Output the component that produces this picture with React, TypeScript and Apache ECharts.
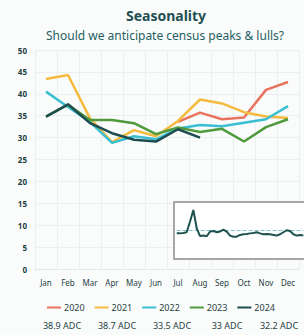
import React, { useEffect, useRef } from "react";
import * as echarts from "echarts";

const months = ["Jan", "Feb", "Mar", "Apr", "May", "Jun", "Jul", "Aug", "Sep", "Oct", "Nov", "Dec"];
const years = ["2020", "2021", "2022", "2023", "2024"];
const y2020 = [null, null, null, null, null, null, 33.6, 35.7, 34.2, 34.6, 40.9, 42.7];
const y2021 = [43.4, 44.3, 34.4, 29.0, 31.7, 30.3, 33.8, 38.7, 37.8, 35.8, 34.8, 34.5];
const y2022 = [40.5, 37.0, 33.6, 28.8, 30.3, 29.6, 32.1, 32.9, 32.6, 33.4, 34.2, 37.2];
const y2023 = [34.8, 37.5, 34.0, 34.0, 33.3, 30.8, 32.3, 31.3, 32.0, 29.1, 32.4, 34.2];
const y2024 = [34.8, 37.6, 33.3, 31.0, 29.5, 29.1, 31.9, 30.0, null, null, null, null];
const yearColors = ["#e8735e", "#f4bb3e", "#3bbfd0", "#4f9a3c", "#1d4d4e"];
const adcLabels = ["38.9 ADC", "38.7 ADC", "33.5 ADC", "33 ADC", "32.2 ADC"];
const yTicks = [0, 50, 5];

const sparkValues = [
  31.7, 31.7, 31.9, 32.2, 37.0, 42.2, 34.0, 30.5, 30.7, 30.4,
  32.5, 32.8, 32.2, 32.5, 33.4, 32.5, 30.7, 30.2, 30.2, 31.0,
  31.3, 31.4, 31.7, 31.9, 32.2, 31.7, 31.3, 31.4, 31.3, 31.0,
  30.7, 31.3, 32.2, 33.1, 32.8, 31.3, 30.7, 31.0, 30.8,
];
const sparkMean = 33.2;

const FONT = "Noto Sans";
const TEXT = "#1f4244";

export default function App() {
  const ref = useRef<HTMLDivElement>(null);
  useEffect(() => {
    if (!ref.current) return;
    const chart = echarts.init(ref.current, null, { renderer: "svg" });
    const yearData = [y2020, y2021, y2022, y2023, y2024];
    const adcX = [62, 117, 172, 227, 279];
    chart.setOption({
      animation: false,
      backgroundColor: "#fafbfb",
      textStyle: { fontFamily: FONT },
      title: [
        {
          text: "Seasonality",
          left: 161,
          textAlign: "center",
          top: 3,
          textStyle: { fontSize: 14, fontWeight: "bold", color: "#1f4f52", fontFamily: FONT },
        },
        {
          text: "Should we anticipate census peaks & lulls?",
          left: 160,
          textAlign: "center",
          top: 24,
          textStyle: { fontSize: 12, fontWeight: "normal", color: "#1f5f62", fontFamily: FONT },
        },
      ],
      legend: {
        data: years,
        left: 42,
        top: 298,
        icon: "rect",
        itemWidth: 14,
        itemHeight: 2,
        itemGap: 10,
        textStyle: { fontSize: 9, color: TEXT, padding: [0, 0, 0, -2] },
      },
      grid: [
        { left: 35, right: 5, top: 50, bottom: 66 },
        { left: 176.7, top: 206, width: 126.7, height: 35.6 },
      ],
      xAxis: [
        {
          type: "category",
          data: months,
          gridIndex: 0,
          axisTick: { show: false },
          axisLine: { show: true, lineStyle: { color: "#e4e8e9" } },
          axisLabel: { fontSize: 8, color: TEXT, margin: 9 },
          splitLine: { show: true, lineStyle: { color: "#eceff0" } },
        },
        {
          type: "category",
          gridIndex: 1,
          show: false,
          boundaryGap: false,
          data: sparkValues.map((_, i) => i),
        },
      ],
      yAxis: [
        {
          type: "value",
          gridIndex: 0,
          min: yTicks[0],
          max: yTicks[1],
          interval: yTicks[2],
          axisLabel: { fontSize: 8, color: TEXT, margin: 8, fontWeight: "bold" },
          splitLine: { show: true, lineStyle: { color: "#eceff0" } },
          axisLine: { show: false },
          axisTick: { show: false },
        },
        { type: "value", gridIndex: 1, show: false, min: 28, max: 44 },
      ],
      graphic: [
        {
          type: "rect",
          z: 1,
          shape: { x: 174, y: 202, width: 140, height: 57 },
          style: { fill: "#ffffff", stroke: "#8c8c8c", lineWidth: 1.5 },
        },
        ...adcLabels.map((t, i) => ({
          type: "text",
          z: 5,
          x: adcX[i],
          y: 325,
          style: {
            text: t,
            fill: TEXT,
            fontSize: 9,
            fontFamily: FONT,
            align: "center",
            verticalAlign: "middle",
          },
        })),
      ],
      series: [
        ...years.map((y, i) => ({
          name: y,
          type: "line",
          data: yearData[i],
          xAxisIndex: 0,
          yAxisIndex: 0,
          symbol: "none",
          lineStyle: { width: 2.5, color: yearColors[i] },
          itemStyle: { color: yearColors[i] },
          connectNulls: false,
        })),
        {
          name: "spark",
          type: "line",
          xAxisIndex: 1,
          yAxisIndex: 1,
          data: sparkValues,
          symbol: "none",
          z: 10,
          lineStyle: { width: 2, color: "#1f5250" },
          markLine: {
            silent: true,
            symbol: "none",
            label: { show: false },
            lineStyle: { type: "dashed", color: "#7cc6cc", width: 1 },
            data: [{ yAxis: sparkMean }],
          },
        },
      ],
    });
    return () => chart.dispose();
  }, []);
  return (
    <div
      ref={ref}
      style={{ position: "absolute", left: 0, top: 0, width: 304, height: 335 }}
    />
  );
}
